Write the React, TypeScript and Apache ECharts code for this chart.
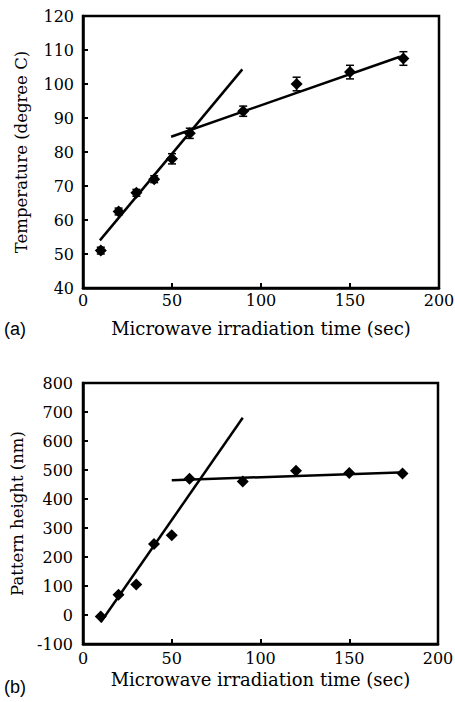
import React, { useEffect, useRef } from "react";
import * as echarts from "echarts";

const timeA = [10, 20, 30, 40, 50, 60, 90, 120, 150, 180];
const tempA = [51, 62.5, 68, 72, 78, 85.5, 92, 100, 103.5, 107.5];
const errA = [1, 1, 1, 1, 1.5, 1.5, 1.5, 2, 2, 2];
const fitA1 = [[9.5, 54], [89.5, 104.3]];
const fitA2 = [[49.5, 84.5], [178, 108]];

const timeB = [10, 20, 30, 40, 50, 60, 90, 120, 150, 180];
const heightB = [-5, 70, 105, 245, 275, 470, 460, 497, 490, 488];
const fitB1 = [[10, -25], [90, 680]];
const fitB2 = [[50, 465], [182, 492]];

const SERIF = "DejaVu Serif";
const SANS = "Liberation Sans";

export default function App() {
  const ref = useRef<HTMLDivElement>(null);
  useEffect(() => {
    if (!ref.current) return;
    const chart = echarts.init(ref.current, undefined, { renderer: "svg" });
    const label = { color: "#000", fontFamily: SERIF, fontSize: 16 };
    const axisCommon = {
      axisLine: { show: true, onZero: false, lineStyle: { color: "#000", width: 2.5 } },
      axisTick: { show: true, inside: true, length: 5, lineStyle: { color: "#000", width: 2 } },
      splitLine: { show: false },
    };
    const xName = { color: "#000", fontFamily: SERIF, fontSize: 18 };
    const yName = { color: "#000", fontFamily: SERIF, fontSize: 16.5 };
    const errData = timeA.map((t, i) => [t, tempA[i] - errA[i], tempA[i] + errA[i]]);
    const lineStyle = { color: "#000", width: 2.5 };
    const mk = { color: "#000", opacity: 1 };
    chart.setOption({
      animation: false,
      textStyle: { fontFamily: SERIF, color: "#000" },
      grid: [
        { left: 83, top: 16, width: 356, height: 272, show: true, borderColor: "#000", borderWidth: 2.5, backgroundColor: "transparent", outerBoundsMode: "none", containLabel: false },
        { left: 83, top: 383, width: 355, height: 261, show: true, borderColor: "#000", borderWidth: 2.5, backgroundColor: "transparent", outerBoundsMode: "none", containLabel: false },
      ],
      xAxis: [
        {
          ...axisCommon, gridIndex: 0, type: "value", min: 0, max: 200, interval: 50,
          axisLabel: { ...label, margin: 4 }, nameTextStyle: xName,
          name: "Microwave irradiation time (sec)", nameLocation: "middle", nameGap: 31,
        },
        {
          ...axisCommon, gridIndex: 1, type: "value", min: 0, max: 200, interval: 50,
          axisLabel: { ...label, margin: 6 }, nameTextStyle: xName,
          name: "Microwave irradiation time (sec)", nameLocation: "middle", nameGap: 26,
        },
      ],
      yAxis: [
        {
          ...axisCommon, gridIndex: 0, type: "value", min: 40, max: 120, interval: 10,
          axisLabel: { ...label, margin: 9 }, nameTextStyle: yName,
          name: "Temperature (degree C)", nameLocation: "middle", nameGap: 53,
        },
        {
          ...axisCommon, gridIndex: 1, type: "value", min: -100, max: 800, interval: 100,
          axisLabel: { ...label, margin: 10 }, nameTextStyle: yName,
          name: "Pattern height (nm)", nameLocation: "middle", nameGap: 51,
        },
      ],
      graphic: [
        { type: "text", left: 4, top: 320, style: { text: "(a)", fontFamily: SANS, fontSize: 18, fill: "#000" } },
        { type: "text", left: 4, top: 678, style: { text: "(b)", fontFamily: SANS, fontSize: 18, fill: "#000" } },
      ],
      series: [
        {
          type: "custom", xAxisIndex: 0, yAxisIndex: 0, data: errData, z: 3,
          renderItem: (params: any, api: any) => {
            const x = api.value(0);
            const lo = api.coord([x, api.value(1)]);
            const hi = api.coord([x, api.value(2)]);
            const st = { stroke: "#000", lineWidth: 1.5 };
            return {
              type: "group",
              children: [
                { type: "line", shape: { x1: lo[0], y1: lo[1], x2: hi[0], y2: hi[1] }, style: st },
                { type: "line", shape: { x1: lo[0] - 4, y1: lo[1], x2: lo[0] + 4, y2: lo[1] }, style: st },
                { type: "line", shape: { x1: hi[0] - 4, y1: hi[1], x2: hi[0] + 4, y2: hi[1] }, style: st },
              ],
            };
          },
        },
        {
          type: "scatter", xAxisIndex: 0, yAxisIndex: 0, symbol: "diamond", symbolSize: 12,
          itemStyle: mk, data: timeA.map((t, i) => [t, tempA[i]]), z: 4,
        },
        { type: "line", xAxisIndex: 0, yAxisIndex: 0, data: fitA1, symbol: "none", lineStyle, z: 2 },
        { type: "line", xAxisIndex: 0, yAxisIndex: 0, data: fitA2, symbol: "none", lineStyle, z: 2 },
        {
          type: "scatter", xAxisIndex: 1, yAxisIndex: 1, symbol: "diamond", symbolSize: 12,
          itemStyle: mk, data: timeB.map((t, i) => [t, heightB[i]]), z: 4,
        },
        { type: "line", xAxisIndex: 1, yAxisIndex: 1, data: fitB1, symbol: "none", lineStyle, z: 2 },
        { type: "line", xAxisIndex: 1, yAxisIndex: 1, data: fitB2, symbol: "none", lineStyle, z: 2 },
      ],
    });
    return () => chart.dispose();
  }, []);
  return (
    <div
      ref={ref}
      style={{ position: "fixed", left: 0, top: 0, width: 455, height: 702, background: "#fff" }}
    />
  );
}
